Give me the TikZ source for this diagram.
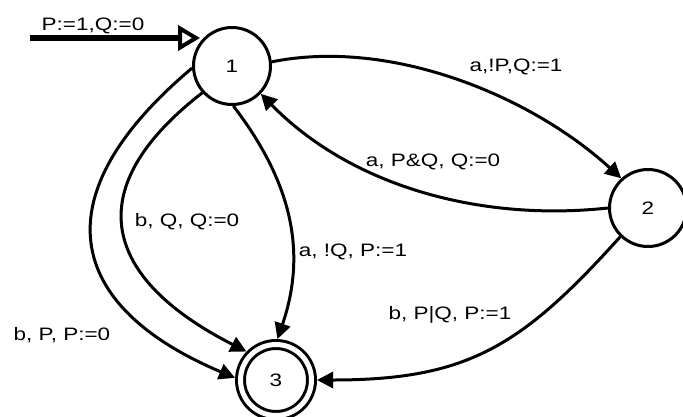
\documentclass[tikz,border=0pt]{standalone}
\usepackage{fontspec}
\setmainfont[FakeStretch=1.25]{Liberation Sans}
\usetikzlibrary{arrows.meta}
\begin{document}
\begin{tikzpicture}[x=1pt,y=-1pt,
  every node/.style={font=\fontsize{18}{20}\selectfont},
  stnode/.style={circle, draw, line width=3pt, minimum size=77pt, inner sep=0pt},
  accnode/.style={circle, draw, line width=3pt, double, double distance=5pt, minimum size=71pt, inner sep=0pt, outer sep=5.5pt},
  trans/.style={line width=3pt, -{Triangle[length=16pt,width=16pt]}},
  lbl/.style={anchor=base, inner sep=0pt}]
\useasboundingbox (0,0) rectangle (683,416);

\node[stnode] (n1) at (232,66) {1};
\node[stnode] (n2) at (648,208) {2};
\node[accnode] (n3) at (276,380) {3};

% initial arrow
\coordinate (i0) at (30,38);
\coordinate (i1) at (200,38);
\draw[line width=6pt, -{Triangle[open,length=22pt,width=25pt,line width=4pt]}] (i0) -- (i1);
\node[lbl] (linit) at (93,30) {P:=1,Q:=0};

% 1 -> 2
\draw[trans] (n1.6) .. controls (390,38) and (530,95) .. (n2.132);
\node[lbl] (l12) at (516,71) {a,!P,Q:=1};

% 2 -> 1
\draw[trans] (n2.180) .. controls (478,222) and (350,185) .. (n1.-44);
\node[lbl] (l21) at (433,166) {a, P\&Q, Q:=0};

% 1 -> 3 inner (b, Q)
\draw[trans] (n1.222) .. controls (77,190) and (104,279) .. (n3.136);
\node[lbl] (l13a) at (187,226) {b, Q, Q:=0};

% 1 -> 3 outer (b, P)
\draw[trans] (n1.183) .. controls (40,196) and (65,306) .. (n3.177);
\node[lbl] (l13b) at (62,340) {b, P, P:=0};

% 1 -> 3 (a, !Q)
\draw[trans] (n1.-88) .. controls (290,180) and (308,250) .. (n3.88);
\node[lbl] (l13c) at (353,256) {a, !Q, P:=1};

% 2 -> 3
\draw[trans] (n2.-134) .. controls (521,347) and (467,380) .. (n3.0);
\node[lbl] (l23) at (450,319) {b, P|Q, P:=1};
\end{tikzpicture}
\end{document}
